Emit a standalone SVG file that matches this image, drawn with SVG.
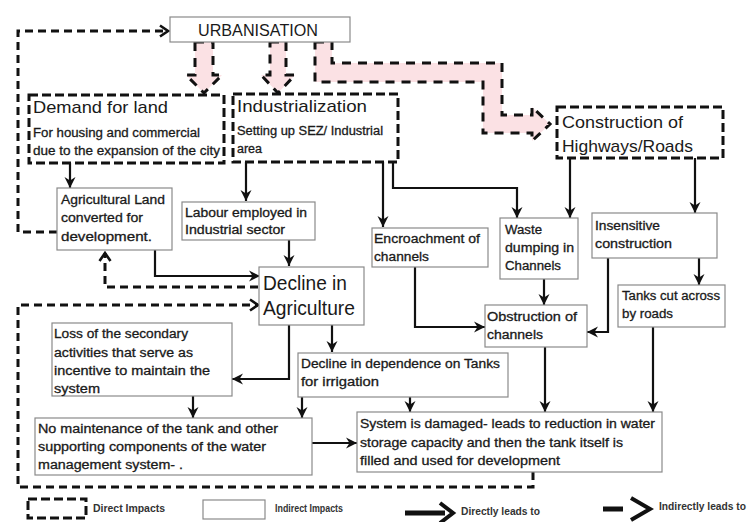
<svg xmlns="http://www.w3.org/2000/svg" width="747" height="522" viewBox="0 0 747 522">
  <style>
    text { font-family: "Liberation Sans", Arial, sans-serif; fill: #1a1a1a; }
    .big { font-size: 17px; }
    .huge { font-size: 21px; }
    .body { font-size: 12.5px; stroke: #1a1a1a; stroke-width: 0.3; }
    .leg { font-size: 10px; font-weight: bold; fill: #333; }
    .direct { fill: #fff; stroke: #111; stroke-width: 3; stroke-dasharray: 9 4; }
    .indirect { fill: #fff; stroke: #8a8a8a; stroke-width: 1.2; }
    .flow { fill: #f9d4d9; fill-opacity: 0.7; stroke: #111; stroke-width: 3; stroke-dasharray: 9 7; }
    .line { fill: none; stroke: #111; stroke-width: 2.2; marker-end: url(#arr); }
    .dline { fill: none; stroke: #111; stroke-width: 3; stroke-dasharray: 8 5; marker-end: url(#chev); }
  </style>
  <defs>
    <marker id="arr" markerUnits="userSpaceOnUse" markerWidth="12" markerHeight="12" refX="11" refY="6" orient="auto">
      <path d="M0,0.5 L11,6 L0,11.5 L3.5,6 Z" fill="#111"/>
    </marker>
    <marker id="chev" markerUnits="userSpaceOnUse" markerWidth="12" markerHeight="14" refX="10" refY="7" orient="auto">
      <path d="M2,1.5 L10,7 L2,12.5" fill="none" stroke="#111" stroke-width="2.6"/>
    </marker>
  </defs>

  <!-- connectors -->
  <g id="connectors">
    <path class="line" d="M70,163 V188"/>
    <path class="line" d="M246,162 V201"/>
    <path class="line" d="M289,240 V266"/>
    <path class="line" d="M155,250 V276 H260"/>
    <path class="line" d="M383,162 V227"/>
    <path class="line" d="M393,162 V188 H517 V218"/>
    <path class="line" d="M570,158 V218"/>
    <path class="line" d="M695,158 V213"/>
    <path class="line" d="M699,258 V285"/>
    <path class="line" d="M544,279 V305"/>
    <path class="line" d="M415,267 V327 H485"/>
    <path class="line" d="M608,258 V332 H587"/>
    <path class="line" d="M289,325 V379 H232"/>
    <path class="line" d="M332,325 V352"/>
    <path class="line" d="M193,396 V418"/>
    <path class="line" d="M302,397 V418"/>
    <path class="line" d="M312,443 H357"/>
    <path class="line" d="M410,397 V412"/>
    <path class="line" d="M545,347 V412"/>
    <path class="line" d="M653,316 V412"/>

    <path class="dline" d="M57,232 H18 V31 H168"/>
    <path class="dline" d="M258,287 H105 V253"/>
    <path class="dline" d="M533,472 V487 H18 V305 H258"/>
  </g>

  <!-- block flows out of urbanisation -->
  <g id="flows">
    <path class="flow" d="M195,42 H213 V75 H222 L204,93 L186,75 H195 Z"/>
    <path class="flow" d="M270,42 H286 V75 H295 L278,93 L261,75 H270 Z"/>
    <path class="flow" d="M315,42 H332 V63 H502 V115 H532 V107 L550,124 L532,141 V133 H483 V82 H315 Z"/>
  </g>

  <g id="urbanisation">
    <rect class="indirect" x="170" y="17" width="180" height="25"/>
    <text class="big" x="198" y="36" textLength="120" lengthAdjust="spacingAndGlyphs">URBANISATION</text>
  </g>

  <g id="demand-for-land">
    <rect class="direct" x="29" y="95" width="195" height="68"/>
    <text class="big" x="33" y="113" textLength="135" lengthAdjust="spacingAndGlyphs">Demand for land</text>
    <text class="body" x="33" y="137" textLength="167" lengthAdjust="spacingAndGlyphs">For housing and commercial</text>
    <text class="body" x="33" y="155" textLength="187" lengthAdjust="spacingAndGlyphs">due to the expansion of the city</text>
  </g>

  <g id="industrialization">
    <rect class="direct" x="233" y="94" width="165" height="68"/>
    <text class="big" x="237" y="112" textLength="130" lengthAdjust="spacingAndGlyphs">Industrialization</text>
    <text class="body" x="237" y="135" textLength="146" lengthAdjust="spacingAndGlyphs">Setting up SEZ/ Industrial</text>
    <text class="body" x="237" y="153">area</text>
  </g>

  <g id="construction">
    <rect class="direct" x="557" y="107" width="166" height="51"/>
    <text class="big" x="562" y="128" textLength="121" lengthAdjust="spacingAndGlyphs">Construction of</text>
    <text class="big" x="562" y="152" textLength="131" lengthAdjust="spacingAndGlyphs">Highways/Roads</text>
  </g>

  <g id="agricultural-land">
    <rect class="indirect" x="57" y="188" width="115" height="62"/>
    <text class="body" x="61" y="204" textLength="104" lengthAdjust="spacingAndGlyphs">Agricultural Land</text>
    <text class="body" x="61" y="222" textLength="82" lengthAdjust="spacingAndGlyphs">converted for</text>
    <text class="body" x="61" y="241" textLength="91" lengthAdjust="spacingAndGlyphs">development.</text>
  </g>

  <g id="labour">
    <rect class="indirect" x="182" y="202" width="133" height="38"/>
    <text class="body" x="185" y="217" textLength="122" lengthAdjust="spacingAndGlyphs">Labour employed in</text>
    <text class="body" x="185" y="234" textLength="100" lengthAdjust="spacingAndGlyphs">Industrial sector</text>
  </g>

  <g id="decline-agriculture">
    <rect class="indirect" x="259" y="267" width="105" height="58"/>
    <text class="huge" x="263" y="290" textLength="84" lengthAdjust="spacingAndGlyphs">Decline in</text>
    <text class="huge" x="263" y="315" textLength="92" lengthAdjust="spacingAndGlyphs">Agriculture</text>
  </g>

  <g id="encroachment">
    <rect class="indirect" x="372" y="228" width="116" height="39"/>
    <text class="body" x="374" y="243" textLength="106" lengthAdjust="spacingAndGlyphs">Encroachment of</text>
    <text class="body" x="374" y="261" textLength="55" lengthAdjust="spacingAndGlyphs">channels</text>
  </g>

  <g id="waste-dumping">
    <rect class="indirect" x="500" y="218" width="78" height="61"/>
    <text class="body" x="505" y="234" textLength="37" lengthAdjust="spacingAndGlyphs">Waste</text>
    <text class="body" x="505" y="252" textLength="69" lengthAdjust="spacingAndGlyphs">dumping in</text>
    <text class="body" x="505" y="270" textLength="56" lengthAdjust="spacingAndGlyphs">Channels</text>
  </g>

  <g id="insensitive-construction">
    <rect class="indirect" x="592" y="213" width="125" height="45"/>
    <text class="body" x="595" y="230" textLength="65" lengthAdjust="spacingAndGlyphs">Insensitive</text>
    <text class="body" x="595" y="248" textLength="77" lengthAdjust="spacingAndGlyphs">construction</text>
  </g>

  <g id="tanks-cut">
    <rect class="indirect" x="618" y="285" width="107" height="42"/>
    <text class="body" x="622" y="300" textLength="98" lengthAdjust="spacingAndGlyphs">Tanks cut across</text>
    <text class="body" x="622" y="318" textLength="51" lengthAdjust="spacingAndGlyphs">by roads</text>
  </g>

  <g id="obstruction">
    <rect class="indirect" x="485" y="305" width="102" height="42"/>
    <text class="body" x="487" y="321" textLength="90" lengthAdjust="spacingAndGlyphs">Obstruction of</text>
    <text class="body" x="487" y="339" textLength="56" lengthAdjust="spacingAndGlyphs">channels</text>
  </g>

  <g id="loss-secondary">
    <rect class="indirect" x="52" y="323" width="180" height="73"/>
    <text class="body" x="54" y="338" textLength="134" lengthAdjust="spacingAndGlyphs">Loss of the secondary</text>
    <text class="body" x="54" y="357" textLength="139" lengthAdjust="spacingAndGlyphs">activities that serve as</text>
    <text class="body" x="54" y="375" textLength="156" lengthAdjust="spacingAndGlyphs">incentive to maintain the</text>
    <text class="body" x="54" y="393" textLength="46" lengthAdjust="spacingAndGlyphs">system</text>
  </g>

  <g id="decline-dependence">
    <rect class="indirect" x="298" y="353" width="210" height="44"/>
    <text class="body" x="301" y="368" textLength="199" lengthAdjust="spacingAndGlyphs">Decline in dependence on Tanks</text>
    <text class="body" x="301" y="386" textLength="78" lengthAdjust="spacingAndGlyphs">for irrigation</text>
  </g>

  <g id="no-maintenance">
    <rect class="indirect" x="35" y="418" width="277" height="57"/>
    <text class="body" x="38" y="433" textLength="240" lengthAdjust="spacingAndGlyphs">No maintenance of the tank and other</text>
    <text class="body" x="38" y="451" textLength="228" lengthAdjust="spacingAndGlyphs">supporting components of the water</text>
    <text class="body" x="38" y="469" textLength="145" lengthAdjust="spacingAndGlyphs">management system- .</text>
  </g>

  <g id="system-damaged">
    <rect class="indirect" x="357" y="412" width="305" height="60"/>
    <text class="body" x="360" y="428" textLength="295" lengthAdjust="spacingAndGlyphs">System is damaged- leads to reduction in water</text>
    <text class="body" x="360" y="447" textLength="263" lengthAdjust="spacingAndGlyphs">storage capacity and then the tank itself is</text>
    <text class="body" x="360" y="465" textLength="200" lengthAdjust="spacingAndGlyphs">filled and used for development</text>
  </g>

  <!-- key -->
  <g id="legend">
    <rect class="direct" x="28" y="499" width="58" height="19"/>
    <text class="leg" x="93" y="512" textLength="72" lengthAdjust="spacingAndGlyphs">Direct Impacts</text>
    <rect class="indirect" x="203" y="500" width="62" height="19"/>
    <text class="leg" x="275" y="512" textLength="68" lengthAdjust="spacingAndGlyphs">Indirect Impacts</text>
    <path d="M405,513 H445" stroke="#111" stroke-width="5" fill="none"/>
    <path d="M440,503 L453,513 L440,523" stroke="#111" stroke-width="4" fill="none"/>
    <text class="leg" x="461" y="515" textLength="79" lengthAdjust="spacingAndGlyphs">Directly leads to</text>
    <path d="M603,509 H623" stroke="#111" stroke-width="5" fill="none"/>
    <path d="M631,498 L650,509 L631,520" stroke="#111" stroke-width="4" fill="none"/>
    <text class="leg" x="659" y="510" textLength="87" lengthAdjust="spacingAndGlyphs">Indirectly leads to</text>
  </g>
</svg>
